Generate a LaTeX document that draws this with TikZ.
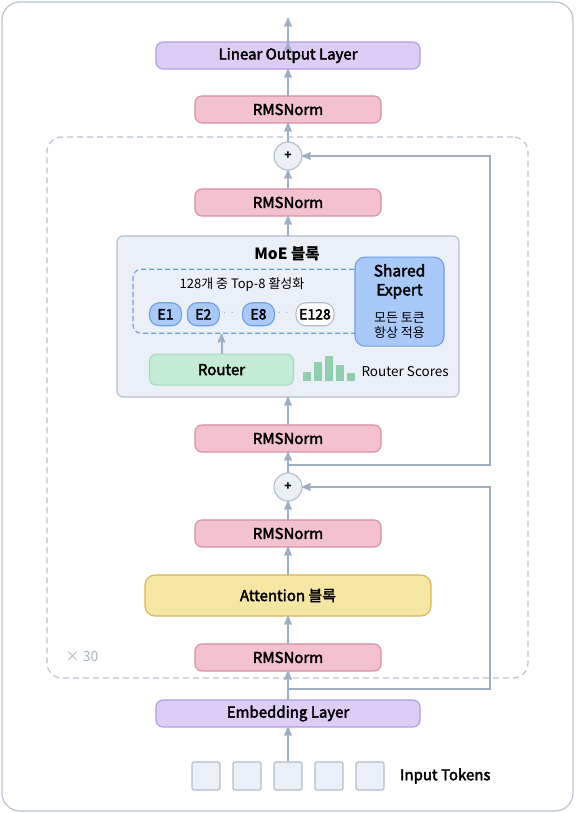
\documentclass[tikz,border=0pt]{standalone}
\usepackage{fontspec}
\setmainfont{Noto Sans CJK KR}
\newfontfamily\medfont{Noto Sans CJK KR}[FakeBold=2.6]
\usetikzlibrary{arrows,positioning,calc}

\definecolor{flowc}{HTML}{9DAFC5}
\definecolor{framec}{HTML}{B8C3D0}
\definecolor{lilacf}{HTML}{DCCDF6}
\definecolor{lilacb}{HTML}{B39BE0}
\definecolor{pinkf}{HTML}{F4C1CF}
\definecolor{pinkb}{HTML}{D98CA3}
\definecolor{sandf}{HTML}{F6E6A4}
\definecolor{sandb}{HTML}{D5B552}
\definecolor{panelf}{HTML}{EBEFF7}
\definecolor{panelb}{HTML}{B2BDCB}
\definecolor{expf}{HTML}{A9C9F8}
\definecolor{expb}{HTML}{6E9EE4}
\definecolor{mintf}{HTML}{C3EBD5}
\definecolor{mintb}{HTML}{A3DCBD}
\definecolor{barc}{HTML}{8FCFAF}
\definecolor{mutec}{HTML}{A7B3C2}
\definecolor{dotc}{HTML}{9AA6B6}

\begin{document}
\begin{tikzpicture}[x=1pt,y=1pt,>=stealth',
    box/.style={rounded corners=7pt, inner sep=0pt, outer sep=0pt, line width=1.1pt,
      font=\fontsize{15}{16}\medfont},
    endlayer/.style={box, draw=lilacb, fill=lilacf, minimum width=264pt, minimum height=27pt},
    norm/.style={box, draw=pinkb, fill=pinkf, minimum width=186pt, minimum height=27pt},
    attnbox/.style={box, rounded corners=10pt, draw=sandb, fill=sandf, minimum width=286pt, minimum height=41pt},
    moebox/.style={box, rounded corners=6pt, draw=panelb, fill=panelf, minimum width=342pt, minimum height=161pt},
    addnode/.style={circle, draw=panelb, fill=panelf, line width=1.1pt, minimum size=28pt, inner sep=0pt,
      outer sep=0pt, font=\fontsize{12}{12}\selectfont\bfseries},
    expert/.style={rounded corners=10pt, draw=expb, fill=expf, line width=1.1pt, inner sep=0pt,
      minimum width=32pt, minimum height=23pt, font=\fontsize{14}{14}\medfont},
    token/.style={rounded corners=2pt, draw=panelb, fill=panelf, line width=1.1pt, minimum size=28pt, inner sep=0pt},
    flow/.style={draw=flowc, line width=2pt},
    small/.style={font=\fontsize{13}{15}\selectfont}
  ]
    \useasboundingbox (0,0) rectangle (575,813);
    \draw[framec, line width=1.2pt, rounded corners=18pt] (2,2) rectangle (573,811);

    % repeated decoder block
    \node[draw=framec, dash pattern=on 6pt off 4pt, line width=1.2pt, rounded corners=15pt, minimum width=481pt,
      minimum height=541pt] (rep) at (287.5,405.5) {};
    \node[small, text=mutec, font=\fontsize{14}{16}\selectfont] (times) at (82,156) {× 30};

    % main stack
    \node[endlayer] (emb) at (288,99.5) {Embedding Layer};
    \node[norm]     (n0)   [above=29pt of emb]  {RMSNorm};
    \node[attnbox]  (attn) [above=28pt of n0]   {Attention 블록};
    \node[norm]     (n1)   [above=28pt of attn] {RMSNorm};
    \node[addnode]  (add1) [above=19pt of n1]   {+};
    \node[norm]     (n2)   [above=21pt of add1] {RMSNorm};
    \node[moebox]   (moe)  [above=28pt of n2]   {};
    \node[norm]     (n3)   [above=20pt of moe]  {RMSNorm};
    \node[addnode]  (add2) [above=19pt of n3]   {+};
    \node[norm]     (n4)   [above=19pt of add2] {RMSNorm};
    \node[endlayer] (out)  [above=27pt of n4]   {Linear Output Layer};
    \coordinate (top) at (288,795);

    % MoE block
    \node[font=\fontsize{15.5}{17}\selectfont\bfseries] (moetitle) at (287,559) {MoE 블록};
    \node[draw=expb, dash pattern=on 5pt off 3pt, line width=1.1pt, rounded corners=8pt, minimum width=237pt,
      minimum height=64pt] (sel) at (251.5,511.7) {};
    \node[small] (topk) at (242,528.7) {128개 중 Top-8 활성화};
    \node[expert] (e1) at (165.5,498.7) {E1};
    \node[expert] (e2) at (203.3,498.7) {E2};
    \node[expert] (e8) at (258.5,498.7) {E8};
    \node[expert, draw=panelb, fill=white, minimum width=38pt] (e128) at (315,498.7) {E128};
    \node[text=dotc, font=\fontsize{10}{10}\selectfont] (dotsa) at (228.5,498.7) {· ·};
    \node[text=dotc, font=\fontsize{10}{10}\selectfont] (dotsb) at (283,498.7) {· ·};
    \node[box, rounded corners=10pt, draw=expb, fill=expf, minimum width=89pt,
      minimum height=89pt] (shared) at (399.5,511.3) {};
    \node[align=center, font=\fontsize{15.5}{19}\medfont] (sharedname) at (399.5,531.5) {Shared\\Expert};
    \node[align=center, small, font=\fontsize{13}{15}\selectfont] (sharednote) at (399.5,487.5) {모든 토큰\\항상 적용};
    \node[box, draw=mintb, fill=mintf, minimum width=144pt, minimum height=31pt] (router) at (221.5,443.3) {Router};
    \foreach \h [count=\i] in {9,18.4,25,16,7.4}
      \fill[barc] (292.3+11*\i,432.3) rectangle ++(7.5,\h);
    \node[small, font=\fontsize{13.5}{15}\selectfont, anchor=west] (scores) at (358,441.3) {Router Scores};

    % tokens
    \foreach \i in {1,...,5}
      \node[token] (t\i) at (165+41*\i,37) {};
    \node[font=\fontsize{15}{16}\medfont, anchor=west] (intok) [right=12pt of t5] {Input Tokens};

    % connectors
    \path[->, flow]
    (t3)     edge (emb)
    (emb)    edge (n0)
    (n0)     edge (attn)
    (attn)   edge (n1)
    (n1)     edge (add1)
    (add1)   edge (n2)
    (n2)     edge (moe)
    (moe)    edge (n3)
    (n3)     edge (add2)
    (add2)   edge (n4)
    (n4)     edge (out)
    (out.north) edge (top)
    (router) edge (router.north |- sel.south)
    ;

    % residual paths
    \coordinate (rx) at (490,0);
    \coordinate (r1) at ($(emb.north)+(0,11)$);
    \coordinate (r2) at ($(add1.north)+(0,8)$);
    \draw[->, flow] (r1) -- (r1 -| rx) |- (add1.east);
    \draw[->, flow] (r2) -- (r2 -| rx) |- (add2.east);
  \end{tikzpicture}
\end{document}
